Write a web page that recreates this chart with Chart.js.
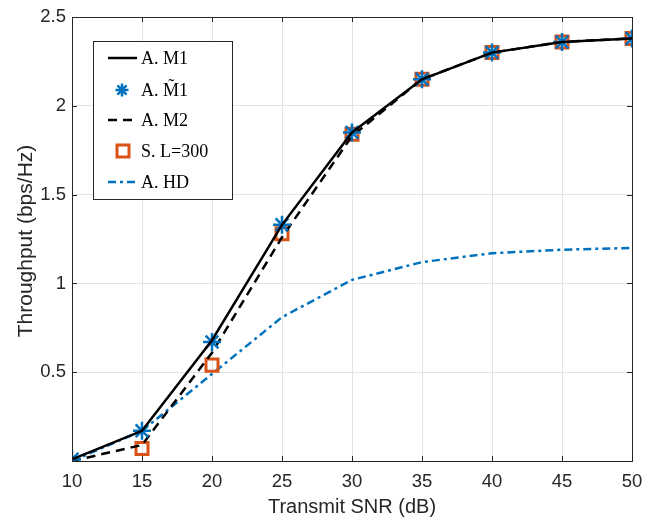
<!DOCTYPE html>
<html>
<head>
<meta charset="utf-8">
<script src="https://cdn.jsdelivr.net/npm/chart.js@4.4.1/dist/chart.umd.min.js"></script>
<style>
  html, body { margin: 0; padding: 0; background: #fff; }
  #wrap { width: 654px; height: 521px; }
</style>
</head>
<body>
<div id="wrap"><canvas id="myChart" width="654" height="521"></canvas></div>
<script>
const snr = [10, 15, 20, 25, 30, 35, 40, 45, 50];
const aM1 = [0.01, 0.17, 0.68, 1.33, 1.85, 2.15, 2.30, 2.36, 2.38];
const aM1tilde = [0.01, 0.17, 0.67, 1.33, 1.85, 2.15, 2.30, 2.36, 2.38];
const aM2 = [0.0, 0.09, 0.61, 1.26, 1.83, 2.15, 2.30, 2.36, 2.38];
const sL300 = [null, 0.07, 0.54, 1.28, 1.84, 2.15, 2.30, 2.36, 2.38];
const aHD = [0.0, 0.17, 0.49, 0.81, 1.02, 1.12, 1.17, 1.19, 1.20];
const yTicks = [0, 0.5, 1, 1.5, 2, 2.5];

const blue = "#0072BD";
const orange = "#D95319";
const sans = "'Liberation Sans', Arial, sans-serif";
const tickFont = { family: sans, size: 18.5 };

const toPoints = (ys) => snr.map((x, i) => ({ x: x, y: ys[i] }));

// legend entries drawn in a box like matlab does
const legendItems = [
  { label: "A. M1", kind: "line", color: "#000", dash: [] },
  { label: "A. M\u03031", kind: "star", color: blue },
  { label: "A. M2", kind: "line", color: "#000", dash: [9, 6] },
  { label: "S. L=300", kind: "square", color: orange },
  { label: "A. HD", kind: "line", color: blue, dash: [8, 4, 3, 4] }
];

const boxPlugin = {
  id: "boxPlugin",
  afterDraw(chart) {
    const ctx = chart.ctx;
    const a = chart.chartArea;
    const xs = chart.scales.x, ys = chart.scales.y;
    ctx.save();
    // inward tick marks
    ctx.strokeStyle = "#262626";
    ctx.lineWidth = 1;
    ctx.beginPath();
    snr.forEach(v => {
      const px = Math.round(xs.getPixelForValue(v)) + 0.5;
      ctx.moveTo(px, a.bottom); ctx.lineTo(px, a.bottom - 5);
      ctx.moveTo(px, a.top); ctx.lineTo(px, a.top + 5);
    });
    yTicks.forEach(v => {
      const py = Math.round(ys.getPixelForValue(v)) + 0.5;
      ctx.moveTo(a.left, py); ctx.lineTo(a.left + 5, py);
      ctx.moveTo(a.right, py); ctx.lineTo(a.right - 5, py);
    });
    ctx.stroke();
    // frame
    ctx.strokeRect(Math.round(a.left) + 0.5, Math.round(a.top) + 0.5,
      Math.round(a.right - a.left), Math.round(a.bottom - a.top));

    // axis titles
    ctx.fillStyle = "#262626";
    ctx.font = "20px " + sans;
    ctx.textAlign = "center";
    ctx.textBaseline = "middle";
    ctx.fillText("Transmit SNR (dB)", (a.left + a.right) / 2, 507);
    ctx.save();
    ctx.translate(26, 241);
    ctx.rotate(-Math.PI / 2);
    ctx.font = "21px " + sans;
    ctx.fillText("Throughput (bps/Hz)", 0, 0);
    ctx.restore();

    // legend
    const lx = 93, ly = 41, lw = 139, lh = 158;
    ctx.fillStyle = "#fff";
    ctx.fillRect(lx, ly, lw, lh);
    ctx.strokeStyle = "#262626";
    ctx.lineWidth = 1;
    ctx.strokeRect(lx + 0.5, ly + 0.5, lw, lh);
    const rows = [58, 90, 120, 151, 182];
    ctx.font = "18px 'Liberation Serif', 'DejaVu Serif', serif";
    ctx.textAlign = "left";
    ctx.textBaseline = "middle";
    legendItems.forEach((it, i) => {
      const cy = rows[i];
      if (it.kind === "line") {
        ctx.strokeStyle = it.color;
        ctx.lineWidth = 2.5;
        ctx.setLineDash(it.dash);
        ctx.beginPath();
        ctx.moveTo(108, cy); ctx.lineTo(137, cy);
        ctx.stroke();
        ctx.setLineDash([]);
      } else if (it.kind === "star") {
        ctx.strokeStyle = it.color;
        ctx.lineWidth = 2.5;
        ctx.beginPath();
        const r = 6.5, c = 122;
        ctx.moveTo(c - r, cy); ctx.lineTo(c + r, cy);
        ctx.moveTo(c, cy - r); ctx.lineTo(c, cy + r);
        ctx.moveTo(c - r * 0.7, cy - r * 0.7); ctx.lineTo(c + r * 0.7, cy + r * 0.7);
        ctx.moveTo(c - r * 0.7, cy + r * 0.7); ctx.lineTo(c + r * 0.7, cy - r * 0.7);
        ctx.stroke();
      } else {
        ctx.strokeStyle = it.color;
        ctx.lineWidth = 3;
        ctx.strokeRect(117, cy - 6, 12, 12);
      }
      ctx.fillStyle = "#000";
      ctx.fillText(it.label, 141, cy + 1);
    });
    ctx.restore();
  }
};

new Chart(document.getElementById("myChart").getContext("2d"), {
  type: "line",
  data: {
    datasets: [
      {
        label: "A. M1", data: toPoints(aM1), borderColor: "#000", borderWidth: 2.5,
        pointRadius: 0, fill: false, tension: 0
      },
      {
        label: "A. M~1", data: toPoints(aM1tilde), showLine: false, borderColor: blue,
        backgroundColor: blue, pointStyle: "star", pointRadius: 9, pointBorderWidth: 2.5
      },
      {
        label: "A. M2", data: toPoints(aM2), borderColor: "#000", borderWidth: 2.5,
        borderDash: [9, 6], pointRadius: 0, fill: false, tension: 0
      },
      {
        label: "S. L=300", data: toPoints(sL300), showLine: false, borderColor: orange,
        backgroundColor: "rgba(0,0,0,0)", pointStyle: "rect", pointRadius: 8.5, pointBorderWidth: 3
      },
      {
        label: "A. HD", data: toPoints(aHD), borderColor: blue, borderWidth: 2.5,
        borderDash: [8, 4, 3, 4], pointRadius: 0, fill: false, tension: 0
      }
    ]
  },
  options: {
    responsive: false,
    animation: false,
    layout: { padding: { top: 16, right: 22, left: 0, bottom: 0 } },
    plugins: { legend: { display: false }, tooltip: { enabled: false } },
    scales: {
      x: {
        type: "linear", min: 10, max: 50,
        afterBuildTicks: (s) => { s.ticks = snr.map(v => ({ value: v })); },
        afterFit: (s) => { s.height = 60; },
        grid: { color: "#e3e3e3", drawTicks: false },
        border: { display: false },
        ticks: { color: "#262626", font: tickFont, padding: 10, maxRotation: 0 }
      },
      y: {
        min: 0, max: 2.5,
        afterBuildTicks: (s) => { s.ticks = yTicks.map(v => ({ value: v })); },
        afterFit: (s) => { s.width = 72; },
        grid: { color: "#e3e3e3", drawTicks: false },
        border: { display: false },
        ticks: {
          color: "#262626", font: tickFont, padding: 6,
          callback: (v) => (v === 0 ? "" : String(v))
        }
      }
    }
  },
  plugins: [boxPlugin]
});
</script>
</body>
</html>
